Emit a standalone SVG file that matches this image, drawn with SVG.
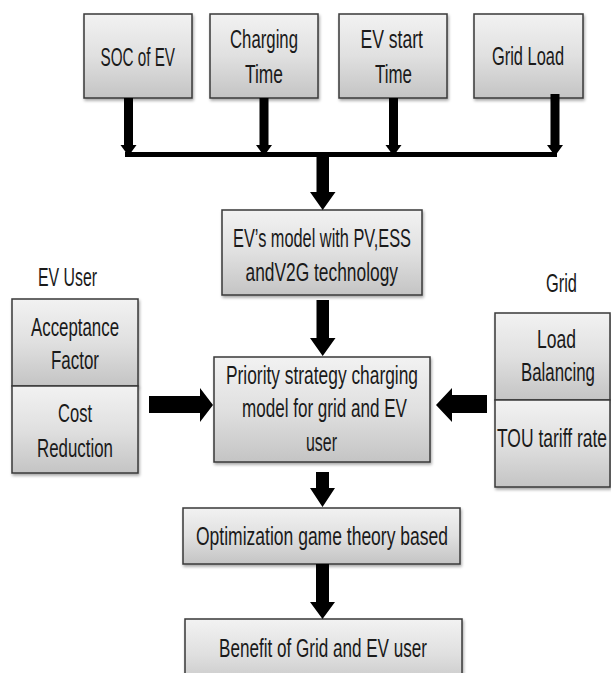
<svg xmlns="http://www.w3.org/2000/svg" width="611" height="673" viewBox="0 0 611 673">
<style>
.box{fill:url(#g);stroke:#383838;stroke-width:1.5;filter:url(#sh)}
.t{font-family:"Liberation Sans",Arial,sans-serif;font-size:25px;fill:#1a1a1a}
.a{fill:#000}
</style>
<defs>
<linearGradient id="g" x1="0" y1="0" x2="0" y2="1">
<stop offset="0" stop-color="#f2f2f2"/>
<stop offset="0.5" stop-color="#e0e0e0"/>
<stop offset="1" stop-color="#c4c4c4"/>
</linearGradient>
<filter id="sh" x="-10%" y="-10%" width="130%" height="140%">
<feDropShadow dx="1" dy="2" stdDeviation="1.5" flood-color="#000" flood-opacity="0.35"/>
</filter>
</defs>
<rect width="611" height="673" fill="#fff"/>

<g id="soc"><rect class="box" x="84" y="14" width="108" height="84"/>
<text class="t" x="100.5" y="66" textLength="74.5" lengthAdjust="spacingAndGlyphs">SOC of EV</text></g>
<g id="charging"><rect class="box" x="210" y="14" width="108" height="84"/>
<text class="t" x="230" y="48" textLength="68" lengthAdjust="spacingAndGlyphs">Charging</text>
<text class="t" x="245" y="83" textLength="38" lengthAdjust="spacingAndGlyphs">Time</text></g>
<g id="evstart"><rect class="box" x="339" y="14" width="108" height="84"/>
<text class="t" x="360.5" y="48" textLength="62.5" lengthAdjust="spacingAndGlyphs">EV start</text>
<text class="t" x="375" y="83" textLength="37" lengthAdjust="spacingAndGlyphs">Time</text></g>
<g id="gridload"><rect class="box" x="474" y="14" width="109" height="84"/>
<text class="t" x="492" y="65" textLength="72" lengthAdjust="spacingAndGlyphs">Grid Load</text></g>

<g id="evmodel"><rect class="box" x="222" y="210" width="200" height="85"/>
<text class="t" x="233" y="247" textLength="178" lengthAdjust="spacingAndGlyphs">EV’s model with PV,ESS</text>
<text class="t" x="245.5" y="281" textLength="152.5" lengthAdjust="spacingAndGlyphs">andV2G technology</text></g>

<g id="priority"><rect class="box" x="214" y="357" width="216" height="105"/>
<text class="t" x="226" y="384" textLength="192" lengthAdjust="spacingAndGlyphs">Priority strategy charging</text>
<text class="t" x="242" y="417" textLength="165" lengthAdjust="spacingAndGlyphs">model for grid and EV</text>
<text class="t" x="306" y="451" textLength="31" lengthAdjust="spacingAndGlyphs">user</text></g>

<g id="evuser"><text class="t" x="38" y="286" textLength="59" lengthAdjust="spacingAndGlyphs">EV User</text></g>
<g id="acceptance"><rect class="box" x="12" y="299" width="126" height="87"/>
<text class="t" x="31" y="336" textLength="88" lengthAdjust="spacingAndGlyphs">Acceptance</text>
<text class="t" x="51" y="369" textLength="48" lengthAdjust="spacingAndGlyphs">Factor</text></g>
<g id="cost"><rect class="box" x="12" y="386" width="126" height="87"/>
<text class="t" x="58" y="422" textLength="34" lengthAdjust="spacingAndGlyphs">Cost</text>
<text class="t" x="37" y="457" textLength="76" lengthAdjust="spacingAndGlyphs">Reduction</text></g>

<g id="grid"><text class="t" x="546" y="292" textLength="31" lengthAdjust="spacingAndGlyphs">Grid</text></g>
<g id="loadbal"><rect class="box" x="495" y="313" width="115" height="87"/>
<text class="t" x="537" y="348" textLength="39" lengthAdjust="spacingAndGlyphs">Load</text>
<text class="t" x="521" y="381" textLength="74" lengthAdjust="spacingAndGlyphs">Balancing</text></g>
<g id="tou"><rect class="box" x="495" y="400" width="115" height="87"/>
<text class="t" x="497" y="447" textLength="110" lengthAdjust="spacingAndGlyphs">TOU tariff rate</text></g>

<g id="optimization"><rect class="box" x="183" y="508" width="277" height="56"/>
<text class="t" x="196" y="545" textLength="252" lengthAdjust="spacingAndGlyphs">Optimization game theory based</text></g>
<g id="benefit"><rect class="box" x="185" y="619" width="277" height="70"/>
<text class="t" x="219" y="657" textLength="208" lengthAdjust="spacingAndGlyphs">Benefit of Grid and EV user</text></g>

<g id="connectors">
<polygon class="a" points="124,98 133,98 133,145 136.5,145 128.5,156 120.5,145 124,145"/>
<polygon class="a" points="259.5,98 268.5,98 268.5,145 272,145 264,156 256,145 259.5,145"/>
<polygon class="a" points="389,98 398,98 398,145 401.5,145 393.5,156 385.5,145 389,145"/>
<polygon class="a" points="550.5,94 559.5,94 559.5,145 563,145 555,156 547,145 550.5,145"/>
<rect class="a" x="125" y="152" width="432" height="5"/>
<polygon class="a" points="316.5,155 329,155 329,192 335.5,192 322.7,210 310,192 316.5,192"/>
<polygon class="a" points="316.5,300 329,300 329,338 335.5,338 322.7,356 310,338 316.5,338"/>
<polygon class="a" points="316,472 329,472 329,488 335,488 322.5,507 310,488 316,488"/>
<polygon class="a" points="316,564 329,564 329,602 335,602 322.5,619 310,602 316,602"/>
<polygon class="a" points="149,396 200,396 200,388 213,405 200,422 200,413 149,413"/>
<polygon class="a" points="487,395 452,395 452,388 436,405 452,422 452,413 487,413"/>
</g>
</svg>
